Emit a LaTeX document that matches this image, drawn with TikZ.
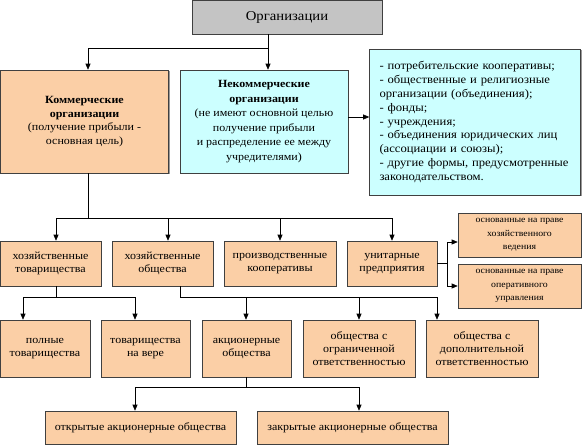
\documentclass[tikz,border=0pt]{standalone}
\usepackage{fontspec}
\setmainfont{Liberation Serif}[FakeStretch=1.09]
\newfontfamily\serifx{Liberation Serif}[FakeStretch=1.09]
\usetikzlibrary{arrows.meta,shadows}
\definecolor{orgfill}{HTML}{FBCFA6}
\definecolor{cyanfill}{HTML}{CCFFFF}
\definecolor{grayfill}{HTML}{C4C4C4}
\begin{document}
\begin{tikzpicture}[x=1pt,y=-1pt,
  box/.style={draw=black!75, line width=0.6pt, fill=orgfill, align=center, inner sep=1pt,
    font=\serifx\fontsize{11}{13}\selectfont,
    drop shadow={shadow xshift=1.2pt,shadow yshift=-1.2pt,fill=black!40,opacity=1}},
  cbox/.style={box, fill=cyanfill},
  sbox/.style={box, font=\serifx\fontsize{9}{13.5}\selectfont},
  conn/.style={draw=black, line width=0.6pt},
  arr/.style={conn, -{Triangle[length=6pt,width=5pt]}}
]
\useasboundingbox[fill=white] (0,0) rectangle (582,445);

% top
\node[box, fill=grayfill, minimum width=190, minimum height=34, font=\serifx\fontsize{13.5}{15}\selectfont] (org) at (287,17) {Организации};

\node[box, minimum width=168, minimum height=103, font=\serifx\fontsize{11}{13.8}\selectfont] (kom) at (84.5,121.5)
  {\textbf{Коммерческие}\\ \textbf{организации}\\ (получение прибыли -\\ основная цель)};
\node[cbox, minimum width=168, minimum height=103, font=\serifx\fontsize{11}{14.5}\selectfont] (nekom) at (264,121.5)
  {\textbf{Некоммерческие}\\ \textbf{организации}\\ (не имеют основной целью\\ получение прибыли\\ и распределение ее между\\ учредителями)};
\node[cbox, minimum width=211, minimum height=146, align=left, inner xsep=10pt, text width=191, font=\serifx\fontsize{11.6}{13.9}\selectfont] (list) at (475,122)
  {- потребительские кооперативы;\\
   - общественные и религиозные\\
   организации (объединения);\\
   - фонды;\\
   - учреждения;\\
   - объединения юридических лиц\\
   (ассоциации и союзы);\\
   - другие формы, предусмотренные\\
   законодательством.};

% row 2
\node[box, minimum width=101, minimum height=45] (ht) at (50.5,263.5) {хозяйственные\\ товарищества};
\node[box, minimum width=101, minimum height=45] (ho) at (162.5,263.5) {хозяйственные\\ общества};
\node[box, minimum width=112, minimum height=45] (pk) at (280,263.5) {производственные\\ кооперативы};
\node[box, minimum width=90, minimum height=45] (up) at (392,263.5) {унитарные\\ предприятия};

\node[sbox, minimum width=123, minimum height=44] (r1) at (519.5,235) {основанные на праве\\ хозяйственного\\ ведения};
\node[sbox, minimum width=123, minimum height=44] (r2) at (519.5,286) {основанные на праве\\ оперативного\\ управления};

% row 3
\node[box, minimum width=90, minimum height=57] (pt) at (45,348.5) {полные\\ товарищества};
\node[box, minimum width=89, minimum height=57] (tv) at (145.5,348.5) {товарищества\\ на вере};
\node[box, minimum width=89, minimum height=57] (ao) at (246.5,348.5) {акционерные\\ общества};
\node[box, minimum width=112, minimum height=57] (ooo) at (359,348.5) {общества с\\ ограниченной\\ ответственностью};
\node[box, minimum width=112, minimum height=57] (odo) at (482,348.5) {общества с\\ дополнительной\\ ответственностью};

% row 4
\node[box, minimum width=191, minimum height=33] (oao) at (140.5,427.5) {открытые акционерные общества};
\node[box, minimum width=191, minimum height=33] (zao) at (352.5,427.5) {закрытые акционерные общества};

% connectors
\coordinate (j1) at (268,48);
\coordinate (j1k) at (88,48);
\draw[conn] (org.south -| j1) -- (j1);
\draw[arr] (j1) -- (j1k) -- (kom.north -| j1k);
\draw[arr] (j1) -- (nekom.north -| j1);

\draw[arr] (nekom.east |- 0,117) -- (list.west |- 0,117);

\coordinate (j2) at (88,218);
\coordinate (j2a) at (56,218);
\coordinate (j2b) at (168,218);
\coordinate (j2c) at (280,218);
\coordinate (j2d) at (392,218);
\draw[conn] (kom.south -| j2) -- (j2);
\draw[conn] (j2a) -- (j2d);
\draw[arr] (j2a) -- (ht.north -| j2a);
\draw[arr] (j2b) -- (ho.north -| j2b);
\draw[arr] (j2c) -- (pk.north -| j2c);
\draw[arr] (j2d) -- (up.north -| j2d);

\coordinate (j3) at (447,263);
\coordinate (j3a) at (447,242);
\coordinate (j3b) at (447,286);
\draw[conn] (up.east |- j3) -- (j3);
\draw[conn] (j3a) -- (j3b);
\draw[arr] (j3a) -- (r1.west |- j3a);
\draw[arr] (j3b) -- (r2.west |- j3b);

\coordinate (j4) at (56,297);
\coordinate (j4a) at (23,297);
\coordinate (j4b) at (135,297);
\draw[conn] (ht.south -| j4) -- (j4);
\draw[conn] (j4a) -- (j4b);
\draw[arr] (j4a) -- (pt.north -| j4a);
\draw[arr] (j4b) -- (tv.north -| j4b);

\coordinate (j5) at (180,297);
\coordinate (j5a) at (246,297);
\coordinate (j5b) at (359,297);
\coordinate (j5c) at (437,297);
\draw[conn] (ho.south -| j5) -- (j5) -- (j5c);
\draw[arr] (j5a) -- (ao.north -| j5a);
\draw[arr] (j5b) -- (ooo.north -| j5b);
\draw[arr] (j5c) -- (odo.north -| j5c);

\coordinate (j6) at (246,387);
\coordinate (j6a) at (135,387);
\coordinate (j6b) at (359,387);
\draw[conn] (ao.south -| j6) -- (j6);
\draw[conn] (j6a) -- (j6b);
\draw[arr] (j6a) -- (oao.north -| j6a);
\draw[arr] (j6b) -- (zao.north -| j6b);
\end{tikzpicture}
\end{document}
